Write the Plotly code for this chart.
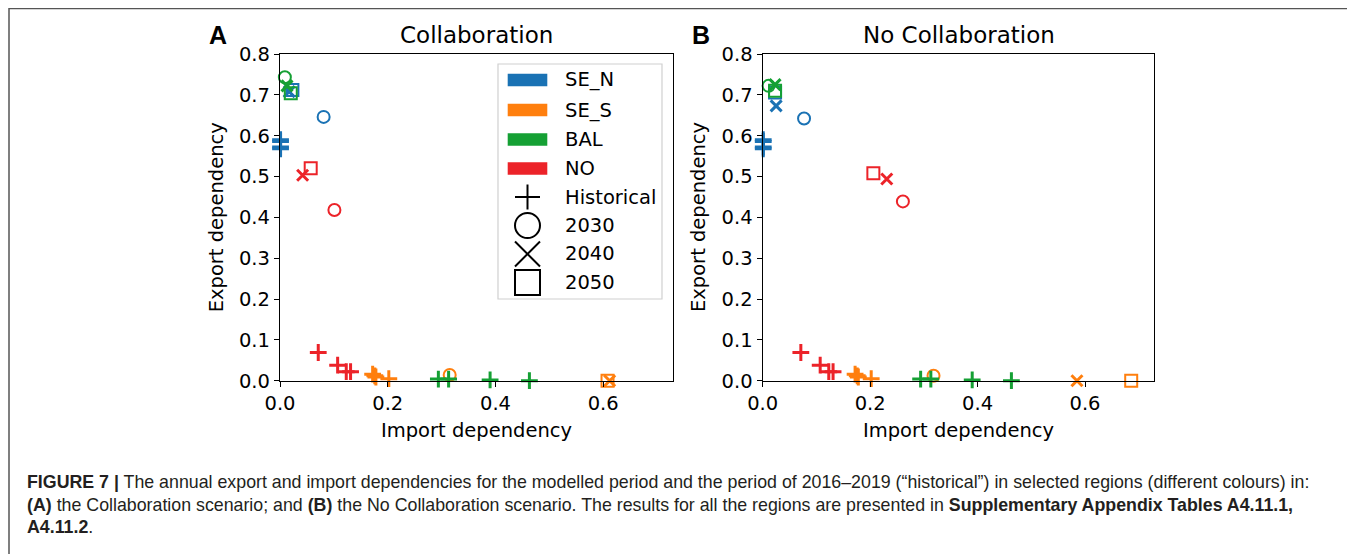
import plotly.graph_objects as go

# page body has an 8px margin: the figure is offset by it, so target pixel
# positions are shifted by OFF and the figure is sized to fill the viewport.
OFF = 8
W, H = 1355 - OFF, 554 - OFF

# ---------------- data ----------------
regions = ["SE_N", "SE_S", "BAL", "NO"]
region_colors = ["#1a72b4", "#ff7f0e", "#15a034", "#ec2329"]
years = ["2030", "2040", "2050"]
year_symbols = ["circle-open", "x-thin-open", "square-open"]

# historical (2016-2019), same in both panels
hist_imp = {
    "SE_N": [0.001, 0.001, 0.001, 0.001],
    "SE_S": [0.172, 0.176, 0.178, 0.202],
    "BAL":  [0.294, 0.313, 0.390, 0.463],
    "NO":   [0.071, 0.107, 0.123, 0.131],
}
hist_exp = {
    "SE_N": [0.590, 0.586, 0.572, 0.568],
    "SE_S": [0.016, 0.012, 0.009, 0.005],
    "BAL":  [0.004, 0.004, 0.002, 0.000],
    "NO":   [0.069, 0.038, 0.022, 0.022],
}

# Collaboration scenario: 2030, 2040, 2050
collab_imp = {
    "SE_N": [0.081, 0.017, 0.023],
    "SE_S": [0.315, 0.612, 0.608],
    "BAL":  [0.009, 0.013, 0.020],
    "NO":   [0.101, 0.042, 0.057],
}
collab_exp = {
    "SE_N": [0.646, 0.708, 0.712],
    "SE_S": [0.014, 0.000, 0.000],
    "BAL":  [0.743, 0.722, 0.704],
    "NO":   [0.418, 0.503, 0.520],
}

# No Collaboration scenario: 2030, 2040, 2050
nocollab_imp = {
    "SE_N": [0.077, 0.025, 0.023],
    "SE_S": [0.318, 0.585, 0.686],
    "BAL":  [0.011, 0.023, 0.023],
    "NO":   [0.261, 0.231, 0.206],
}
nocollab_exp = {
    "SE_N": [0.642, 0.673, 0.706],
    "SE_S": [0.012, 0.000, 0.000],
    "BAL":  [0.722, 0.725, 0.710],
    "NO":   [0.439, 0.494, 0.508],
}

panel_titles = ["Collaboration", "No Collaboration"]
panel_letters = ["A", "B"]
x_ticks = [0.0, 0.2, 0.4, 0.6]
y_ticks = [0.0, 0.1, 0.2, 0.3, 0.4, 0.5, 0.6, 0.7, 0.8]
legend_labels = regions + ["Historical"] + years

# ---------------- helpers ----------------
def px(x):
    return (x - OFF) / W

def py(y):
    return 1 - (y - OFF) / H

FONT = "DejaVu Sans"
FS = 19.5

fig = go.Figure()

scen = [(collab_imp, collab_exp, "x", "y"), (nocollab_imp, nocollab_exp, "x2", "y2")]
for imp, exp, xa, ya in scen:
    for r, c in zip(regions, region_colors):
        fig.add_trace(go.Scatter(
            x=hist_imp[r], y=hist_exp[r], mode="markers", xaxis=xa, yaxis=ya,
            marker=dict(symbol="cross-thin-open", size=12, color=c, line=dict(color=c, width=3)),
            showlegend=False, cliponaxis=False))
        for i, (yr, sym) in enumerate(zip(years, year_symbols)):
            thin = sym == "x-thin-open"
            fig.add_trace(go.Scatter(
                x=[imp[r][i]], y=[exp[r][i]], mode="markers", xaxis=xa, yaxis=ya,
                marker=dict(symbol=sym, size=11 if thin else 12, color=c,
                            line=dict(color=c, width=3 if thin else 2)),
                showlegend=False, cliponaxis=False))

# plot areas (target pixels)
areas = [(280, 672.7), (762.7, 1154.3)]
top, bottom = 54, 380.7

axis_common = dict(
    showgrid=False, zeroline=False, showline=True, linecolor="black", linewidth=1.4,
    mirror=True, ticks="outside", ticklen=5, tickwidth=1.3, tickcolor="black",
    tickfont=dict(family=FONT, size=FS, color="black"), automargin=False,
)

layout = dict(
    width=W, height=H, margin=dict(l=0, r=0, t=0, b=0, autoexpand=False),
    plot_bgcolor="white", paper_bgcolor="white", showlegend=False,
)
for k, (x0, x1) in enumerate(areas):
    sx = "" if k == 0 else "2"
    layout["xaxis" + sx] = dict(
        axis_common, domain=[px(x0), px(x1)], range=[0, 0.729],
        tickvals=x_ticks, ticktext=[f"{v:.1f}" for v in x_ticks],
        anchor="y" + sx)
    layout["yaxis" + sx] = dict(
        axis_common, domain=[py(bottom), py(top)], range=[0, 0.8],
        tickvals=y_ticks, ticktext=[f"{v:.1f}" for v in y_ticks],
        anchor="x" + sx)
fig.update_layout(**layout)

ann = []
shapes = []
for k, (x0, x1) in enumerate(areas):
    cx = (x0 + x1) / 2
    ann.append(dict(x=px(cx), y=py(35), xref="paper", yref="paper", text=panel_titles[k],
                    showarrow=False, font=dict(family=FONT, size=23, color="black"),
                    xanchor="center", yanchor="middle"))
    ann.append(dict(x=px(x0 - 62), y=py(35), xref="paper", yref="paper",
                    text="<b>" + panel_letters[k] + "</b>",
                    showarrow=False, font=dict(family="Liberation Sans", size=25, color="black"),
                    xanchor="center", yanchor="middle"))
    ann.append(dict(x=px(cx), y=py(430), xref="paper", yref="paper", text="Import dependency",
                    showarrow=False, font=dict(family=FONT, size=FS, color="black"),
                    xanchor="center", yanchor="middle"))
    ann.append(dict(x=px(x0 - 64), y=py((top + bottom) / 2), xref="paper", yref="paper",
                    text="Export dependency", textangle=-90,
                    showarrow=False, font=dict(family=FONT, size=FS, color="black"),
                    xanchor="center", yanchor="middle"))

# legend (panel A)
shapes.append(dict(type="rect", xref="paper", yref="paper",
                   x0=px(498), x1=px(662), y0=py(299), y1=py(64),
                   line=dict(color="#d0d0d0", width=1.2), fillcolor="rgba(255,255,255,0.85)",
                   layer="above"))
centers = [80, 110, 139.5, 168.5, 197, 225.5, 254, 282.5]
for i, lab in enumerate(legend_labels):
    cy = centers[i]
    if i < 4:
        shapes.append(dict(type="rect", xref="paper", yref="paper",
                           x0=px(507.7), x1=px(547.3), y0=py(cy + 6.3), y1=py(cy - 6.3),
                           line=dict(width=0), fillcolor=region_colors[i], layer="above"))
    else:
        mx, r = 527.5, 12.5
        lw = dict(color="black", width=2)
        if lab == "Historical":
            shapes.append(dict(type="line", xref="paper", yref="paper", x0=px(mx), x1=px(mx),
                               y0=py(cy - r), y1=py(cy + r), line=lw, layer="above"))
            shapes.append(dict(type="line", xref="paper", yref="paper", x0=px(mx - r), x1=px(mx + r),
                               y0=py(cy), y1=py(cy), line=lw, layer="above"))
        elif lab == "2030":
            shapes.append(dict(type="circle", xref="paper", yref="paper", x0=px(mx - r), x1=px(mx + r),
                               y0=py(cy + r), y1=py(cy - r), line=lw, layer="above"))
        elif lab == "2040":
            shapes.append(dict(type="line", xref="paper", yref="paper", x0=px(mx - r), x1=px(mx + r),
                               y0=py(cy + r), y1=py(cy - r), line=lw, layer="above"))
            shapes.append(dict(type="line", xref="paper", yref="paper", x0=px(mx - r), x1=px(mx + r),
                               y0=py(cy - r), y1=py(cy + r), line=lw, layer="above"))
        else:
            shapes.append(dict(type="rect", xref="paper", yref="paper", x0=px(mx - r), x1=px(mx + r),
                               y0=py(cy + r), y1=py(cy - r), line=lw, layer="above"))
    ann.append(dict(x=px(563), y=py(cy), xref="paper", yref="paper", text=lab,
                    showarrow=False, font=dict(family=FONT, size=FS, color="black"),
                    xanchor="left", yanchor="middle"))

# outer frame
shapes.append(dict(type="rect", xref="paper", yref="paper", x0=px(9), x1=px(1353.5),
                   y0=py(570), y1=py(8.5), line=dict(color="#555555", width=1.5),
                   fillcolor="rgba(0,0,0,0)", layer="above"))

# caption
CAP = "Liberation Sans, Arial"
cap_lines = [
    "<b>FIGURE 7 |</b> The annual export and import dependencies for the modelled period and the period of 2016–2019 (“historical”) in selected regions (different colours) in:",
    "<b>(A)</b> the Collaboration scenario; and <b>(B)</b> the No Collaboration scenario. The results for all the regions are presented in <b>Supplementary Appendix Tables A4.11.1,</b>",
    "<b>A4.11.2</b>.",
]
for i, t in enumerate(cap_lines):
    ann.append(dict(x=px(25), y=py(482 + 22.5 * i), xref="paper", yref="paper", text=t,
                    showarrow=False, font=dict(family=CAP, size=17.8, color="#231f20"),
                    xanchor="left", yanchor="middle"))

fig.update_layout(annotations=ann, shapes=shapes)
fig.write_html("out.html")
